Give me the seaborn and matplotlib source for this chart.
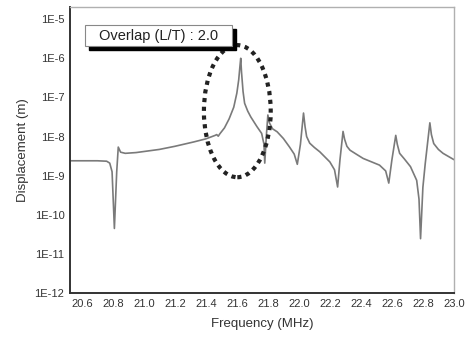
import numpy as np
import pandas as pd
import seaborn as sns
import matplotlib
matplotlib.use("Agg")
import matplotlib.pyplot as plt
from matplotlib.patches import Ellipse, Rectangle
from matplotlib.ticker import FixedLocator, LogLocator, MultipleLocator, NullFormatter

# frequency (MHz) and displacement (m)
freq = [20.52, 20.60, 20.70, 20.76, 20.78, 20.795, 20.81, 20.825, 20.835, 20.85,
        20.88, 20.95, 21.10, 21.20, 21.32, 21.40, 21.46, 21.47, 21.48, 21.49,
        21.52, 21.55, 21.58, 21.60, 21.612, 21.62, 21.625, 21.63, 21.64, 21.65,
        21.67, 21.69, 21.73, 21.76, 21.775, 21.78, 21.79, 21.80, 21.81, 21.83,
        21.86, 21.90, 21.94, 21.97, 21.99, 22.01, 22.03, 22.04, 22.05, 22.07,
        22.10, 22.135, 22.20, 22.23, 22.25, 22.265, 22.285, 22.295, 22.31, 22.33,
        22.37, 22.415, 22.52, 22.56, 22.58, 22.60, 22.625, 22.635, 22.65, 22.68,
        22.72, 22.76, 22.775, 22.785, 22.80, 22.815, 22.845, 22.855, 22.87, 22.90,
        22.93, 23.00]
disp = [2.40e-9, 2.40e-9, 2.40e-9, 2.34e-9, 2.09e-9, 1.26e-9, 4.47e-11, 1.26e-9, 5.37e-9, 3.98e-9,
        3.72e-9, 3.89e-9, 4.68e-9, 5.62e-9, 7.24e-9, 8.71e-9, 1.07e-8, 1.12e-8, 1.02e-8, 1.17e-8,
        1.66e-8, 2.82e-8, 5.62e-8, 1.29e-7, 2.82e-7, 6.31e-7, 1.0e-6, 4.47e-7, 1.41e-7, 7.08e-8,
        4.47e-8, 3.16e-8, 1.78e-8, 1.20e-8, 6.31e-9, 2.09e-9, 1.0e-8, 3.55e-8, 2.24e-8, 1.58e-8,
        1.32e-8, 8.91e-9, 5.37e-9, 3.55e-9, 1.95e-9, 6.31e-9, 3.98e-8, 1.78e-8, 1.0e-8, 6.76e-9,
        5.25e-9, 4.07e-9, 2.24e-9, 1.41e-9, 5.13e-10, 2.51e-9, 1.35e-8, 8.51e-9, 5.62e-9, 4.47e-9,
        3.55e-9, 2.75e-9, 1.86e-9, 1.32e-9, 6.46e-10, 2.51e-9, 1.07e-8, 6.31e-9, 3.72e-9, 2.69e-9,
        1.70e-9, 7.59e-10, 2.51e-10, 2.45e-11, 5.01e-10, 2.00e-9, 2.24e-8, 1.12e-8, 6.61e-9, 4.68e-9,
        3.72e-9, 2.57e-9]

y_ticks = [1e-12, 1e-11, 1e-10, 1e-9, 1e-8, 1e-7, 1e-6, 1e-5]
y_labels = ["1E-12", "1E-11", "1E-10", "1E-9", "1E-8", "1E-7", "1E-6", "1E-5"]
x_ticks = [20.6, 20.8, 21.0, 21.2, 21.4, 21.6, 21.8, 22.0, 22.2, 22.4, 22.6, 22.8, 23.0]
note = "Overlap (L/T) : 2.0"

df = pd.DataFrame({"freq": freq, "disp": disp})

sns.set_style("white")
plt.rcParams["font.family"] = ["Liberation Sans", "DejaVu Sans"]

fig = plt.figure(figsize=(4.66, 3.38), dpi=100)
ax = fig.add_axes([0.150, 0.133, 0.824, 0.846])

sns.lineplot(data=df, x="freq", y="disp", color="#7a7a7a", linewidth=1.2,
             estimator=None, ax=ax)
ax.set_yscale("log")
ax.set_xlim(20.523, 23.0)
ax.set_ylim(1e-12, 2.03e-5)

ax.yaxis.set_major_locator(FixedLocator(y_ticks))
ax.set_yticklabels(y_labels)
ax.yaxis.set_minor_locator(LogLocator(base=10, subs=np.arange(2, 10)))
ax.yaxis.set_minor_formatter(NullFormatter())
ax.set_xticks(x_ticks)
ax.set_xticklabels([f"{v:.1f}" for v in x_ticks])
ax.xaxis.set_minor_locator(MultipleLocator(0.1))

ax.tick_params(which="major", direction="in", length=4, width=1.1,
               labelsize=8, colors="#333333", pad=4)
ax.tick_params(which="minor", direction="in", length=2, width=0.8, color="#333333")
ax.tick_params(axis="x", which="both", top=False)
ax.tick_params(axis="y", which="both", right=False)

for side in ["left", "bottom"]:
    ax.spines[side].set_color("#333333")
    ax.spines[side].set_linewidth(1.4)
for side in ["top", "right"]:
    ax.spines[side].set_color("#b0b0b0")
    ax.spines[side].set_linewidth(1.0)

ax.set_xlabel("Frequency (MHz)", fontsize=9.5, color="#333333", labelpad=7)
ax.set_ylabel("Displacement (m)", fontsize=9.5, color="#333333", labelpad=4)

# dotted ellipse around the main peak
ell = Ellipse((0.436, 0.636), 0.174, 0.462, transform=ax.transAxes, fill=False,
              edgecolor="#222222", linewidth=3.0, linestyle=(0, (1, 1.1)), zorder=5)
ax.add_patch(ell)

# annotation box with drop shadow
ax.add_patch(Rectangle((0.049, 0.850), 0.383, 0.073, transform=ax.transAxes,
                       facecolor="black", edgecolor="black", zorder=6))
ax.add_patch(Rectangle((0.039, 0.864), 0.383, 0.073, transform=ax.transAxes,
                       facecolor="white", edgecolor="#888888", linewidth=0.8, zorder=7))
ax.text(0.232, 0.900, note, transform=ax.transAxes, ha="center", va="center",
        fontsize=10.5, color="#222222", zorder=8)

fig.savefig("out.png", dpi=100)
